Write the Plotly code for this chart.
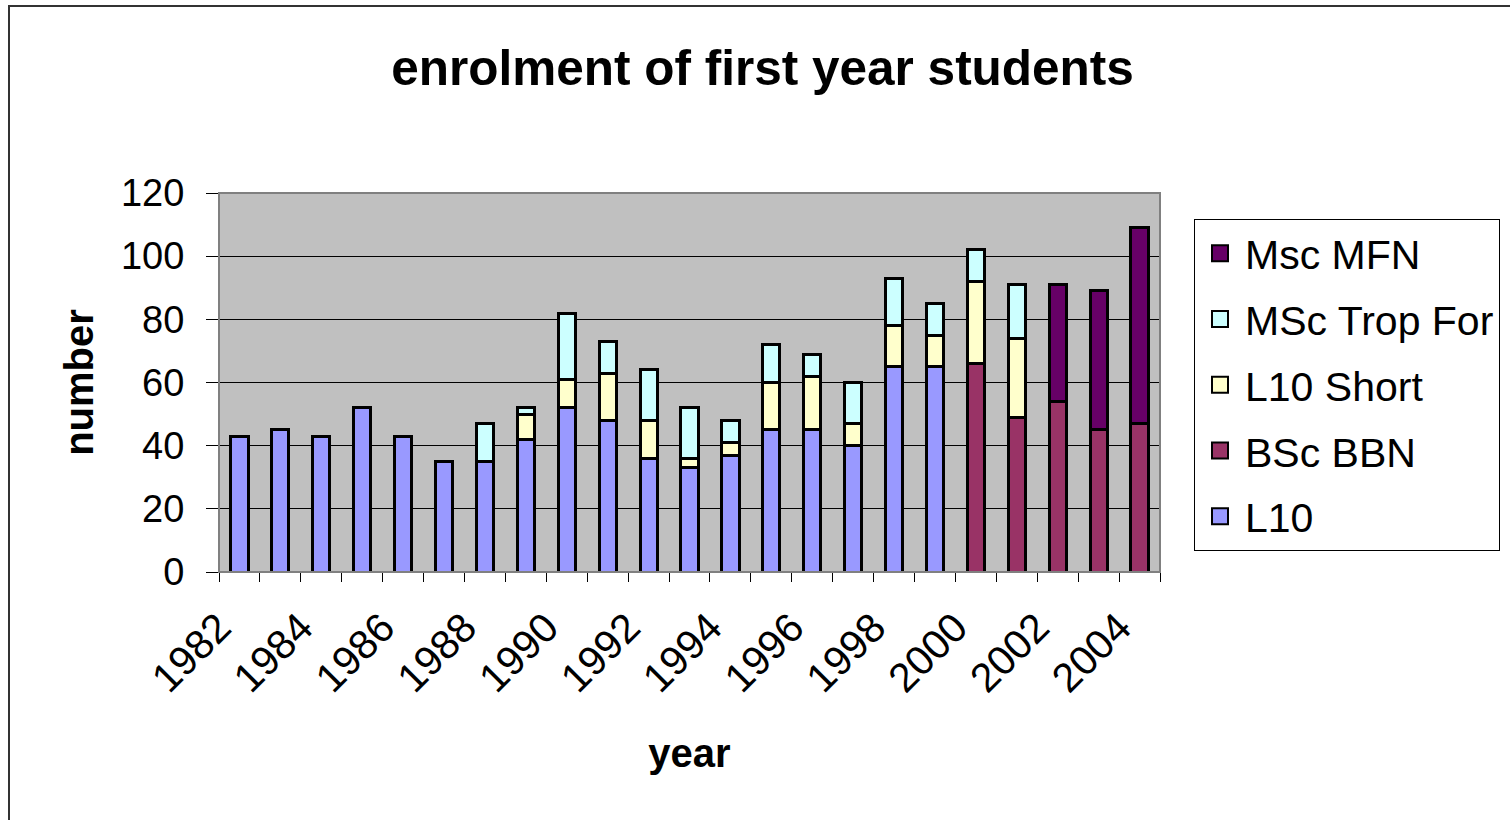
import plotly.graph_objects as go

years = list(range(1982, 2005))
l10 = [43, 45, 43, 52, 43, 35, 35, 42, 52, 48, 36, 33, 37, 45, 45, 40, 65, 65, None, None, None, None, None]
bsc_bbn = [None] * 18 + [66, 49, 54, 45, 47]
l10_short = [None, None, None, None, None, None, None, 8, 9, 15, 12, 3, 4, 15, 17, 7, 13, 10, 26, 25, None, None, None]
msc_trop = [None, None, None, None, None, None, 12, 2, 21, 10, 16, 16, 7, 12, 7, 13, 15, 10, 10, 17, None, None, None]
msc_mfn = [None] * 20 + [37, 44, 62]
tick_years = years[::2]
tick_text = [str(y) for y in tick_years]

# stacking order bottom -> top
series = [
    ("L10", l10, "#9999FF"),
    ("BSc BBN", bsc_bbn, "#993366"),
    ("L10 Short", l10_short, "#FFFFCC"),
    ("MSc Trop For", msc_trop, "#CCFFFF"),
    ("Msc MFN", msc_mfn, "#660066"),
]

FONT = "Liberation Sans, Arial, sans-serif"

fig = go.Figure()
n = len(series)
for i, (name, vals, col) in enumerate(series):
    fig.add_trace(go.Bar(
        x=years, y=vals, name=name, showlegend=False,
        marker=dict(color=col, line=dict(color="black", width=3)),
        width=0.42,
    ))
# legend entries (square swatches), top entry = top of stack
for i, (name, vals, col) in enumerate(series):
    fig.add_trace(go.Scatter(
        x=[None], y=[None], mode="markers", name=name, legendgroup=name,
        legendrank=n - i,
        marker=dict(symbol="square", size=16, color=col, line=dict(color="black", width=2)),
    ))

L, R, T, B = 219, 1160, 193, 572
W, H = 1510, 820
pw, ph = R - L, B - T

def px(xp):
    return (xp - L) / pw

def py(yp):
    return (B - yp) / ph

fig.update_layout(
    width=W, height=H,
    margin=dict(l=L, r=W - R, t=T, b=H - B, pad=0, autoexpand=False),
    barmode="stack",
    paper_bgcolor="white",
    plot_bgcolor="#C0C0C0",
    font=dict(family=FONT, color="black", size=38),
    title=dict(text="<b>enrolment of first year students</b>", x=0.505, xanchor="center",
               y=1 - 68 / H, yanchor="middle", font=dict(size=49.5, family=FONT)),
    showlegend=True,
    legend=dict(x=px(1194), y=py(219), xanchor="left", yanchor="top",
                traceorder="grouped", tracegroupgap=9.5, itemsizing="trace",
                itemwidth=40,
                bordercolor="black", borderwidth=1, bgcolor="white",
                font=dict(size=41, family=FONT)),
    bargap=0.58,
)

fig.update_xaxes(
    range=[1981.5, 2004.5], automargin=False,
    tickmode="array", tickvals=[y - 0.5 for y in tick_years], ticktext=tick_text,
    tickangle=-45, ticks="", ticklabelstandoff=14,
    showline=True, linecolor="black", linewidth=1,
    showgrid=False, zeroline=False,
    tickfont=dict(size=41),
    minor=dict(tickmode="linear", tick0=1981.5, dtick=1, ticks="outside",
               ticklen=9, tickcolor="black", tickwidth=1, showgrid=False),
    title=dict(text="<b>year</b>", font=dict(size=40), standoff=38),
)
fig.update_yaxes(
    range=[0, 120], dtick=20, tick0=0, automargin=False,
    ticks="outside", ticklen=12, tickcolor="black", tickwidth=1,
    ticklabelstandoff=14,
    showline=True, linecolor="black", linewidth=1,
    showgrid=True, gridcolor="black", gridwidth=1,
    zeroline=False,
    tickfont=dict(size=38),
    title=dict(text="<b>number</b>", font=dict(size=40), standoff=14),
)

# plot-area border (gray top/right) and outer chart border
fig.add_shape(type="rect", xref="paper", yref="paper", x0=0, y0=0, x1=1, y1=1,
              line=dict(color="#808080", width=2), layer="above")
fig.add_shape(type="rect", xref="paper", yref="paper",
              x0=px(9), y0=py(830), x1=px(1520), y1=py(6),
              line=dict(color="#333333", width=2), layer="above")

fig.write_html("out.html")
